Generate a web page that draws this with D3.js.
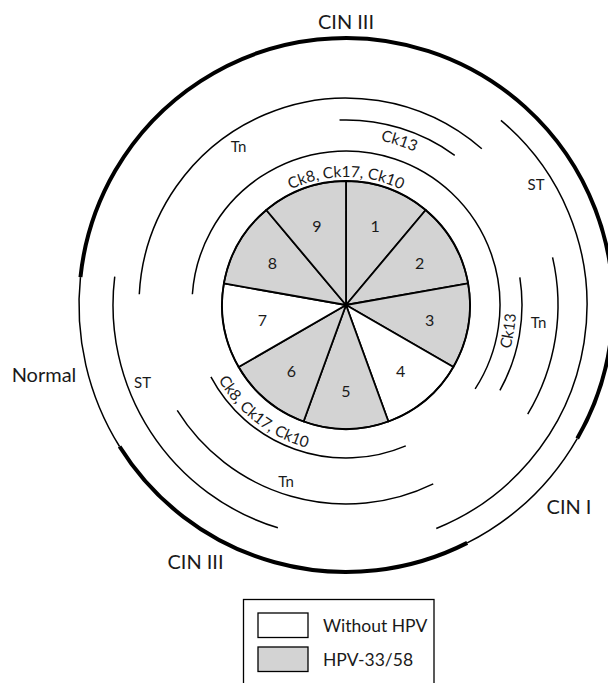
<!DOCTYPE html>
<html>
<head>
<meta charset="utf-8">
<script src="https://cdn.jsdelivr.net/npm/d3@7"></script>
<style>
  html, body { margin: 0; padding: 0; background: #fff; }
  svg { display: block; }
  text { font-family: Lato, "Noto Sans", sans-serif; fill: #1a1a1a; }
</style>
</head>
<body>
<div id="chart"></div>
<script>
// ---------------- DATA ----------------
const cases = ["1", "2", "3", "4", "5", "6", "7", "8", "9"];
const hpvStatus = ["HPV-33/58", "HPV-33/58", "HPV-33/58", "Without HPV", "HPV-33/58",
                   "HPV-33/58", "Without HPV", "HPV-33/58", "HPV-33/58"];
const legendLabels = ["Without HPV", "HPV-33/58"];

// outer ring: histological stage along the circle (degrees, clockwise from top)
const stageNames = ["CIN III", "CIN I", "CIN III", "Normal"];
const stageFrom  = [-84, 120, 153, 238];
const stageTo    = [120, 153, 238, 276];
const stageLabels = ["CIN III", "CIN I", "CIN III", "Normal"];

// marker arcs (degrees, clockwise from top)
const markerIds    = ["ck8a", "ck8b", "ck13a", "ck13b", "tna", "tnb", "tnc", "sta", "stb"];
const markerNames  = ["Ck8, Ck17, Ck10", "Ck8, Ck17, Ck10", "Ck13", "Ck13", "Tn", "Tn", "Tn", "ST", "ST"];
const markerFrom   = [-86, 157, -2, 81, -87, 77, 154, 40, 197];
const markerTo     = [123, 242, 36, 119, 41, 121, 238, 158, 277];

// ---------------- LAYOUT ----------------
const W = 608, H = 683;
const cx = 346, cy = 305;
const pieR = 124, outerR = 267;
const markerRadius = d3.scaleOrdinal().domain(markerIds)
  .range([154, 153, 185, 176, 207, 212, 199, 241, 233]);

// label placement (angle deg, radius, mode)
const markerLabelLayout = {
  ck8a:  {a: 0,    r: 128, mode: "cw"},
  ck8b:  {a: 217.5, r: 148, mode: "ccw"},
  ck13a: {a: 18,   r: 168, mode: "cw"},
  ck13b: {a: 99,   r: 170, mode: "ccw"},
  tna:   {x: 238.5, y: 146, mode: "h"},
  tnb:   {x: 538.5, y: 322, mode: "h"},
  tnc:   {x: 286,  y: 480.5, mode: "h"},
  sta:   {x: 536,  y: 184, mode: "h"},
  stb:   {x: 142.5, y: 382, mode: "h"}
};
const stageLabelPos = [[346, 21], [569, 506], [195.5, 561], [44, 374]];

const rad = d => d * Math.PI / 180;
const fill = d3.scaleOrdinal().domain(legendLabels).range(["#ffffff", "#d3d3d3"]);

const svg = d3.select("#chart").append("svg").attr("width", W).attr("height", H);
const g = svg.append("g").attr("transform", `translate(${cx},${cy})`);

function arcPath(r, a0, a1, ccw) {
  const p = d3.path();
  // convert clock angle to math angle (0 = 3 o'clock)
  const m0 = rad(a0 - 90), m1 = rad(a1 - 90);
  p.moveTo(r * Math.cos(m0), r * Math.sin(m0));
  p.arc(0, 0, r, m0, m1, ccw);
  return p.toString();
}

// ---- outer stage circle ----
stageNames.forEach((s, i) => {
  g.append("path")
    .attr("d", arcPath(outerR, stageFrom[i], stageTo[i], false))
    .attr("fill", "none")
    .attr("stroke", "#000")
    .attr("stroke-width", s === "CIN III" ? 4 : 1.5);
});

// ---- marker arcs ----
markerIds.forEach((id, i) => {
  g.append("path")
    .attr("d", arcPath(markerRadius(id), markerFrom[i], markerTo[i], false))
    .attr("fill", "none")
    .attr("stroke", "#000")
    .attr("stroke-width", 1.5);
});

// ---- marker labels ----
const defs = svg.append("defs");
markerIds.forEach((id, i) => {
  const L = markerLabelLayout[id];
  if (L.mode === "h") {
    svg.append("text")
      .attr("x", L.x).attr("y", L.y)
      .attr("text-anchor", "middle")
      .attr("dominant-baseline", "central")
      .attr("font-size", 15)
      .text(markerNames[i]);
  } else {
    const pid = "lp-" + id;
    const span = 70;
    const d = L.mode === "cw"
      ? arcPath(L.r, L.a - span, L.a + span, false)
      : arcPath(L.r, L.a + span, L.a - span, true);
    defs.append("path").attr("id", pid).attr("d", d)
      .attr("transform", `translate(${cx},${cy})`);
    svg.append("text")
      .attr("font-size", 15.5)
      .append("textPath")
      .attr("href", "#" + pid)
      .attr("startOffset", "50%")
      .attr("text-anchor", "middle")
      .text(markerNames[i]);
  }
});

// ---- pie ----
const pie = d3.pie().value(() => 1).sort(null);
const arcs = pie(cases);
const arcGen = d3.arc().innerRadius(0).outerRadius(pieR);
g.selectAll("path.slice").data(arcs).join("path")
  .attr("class", "slice")
  .attr("d", arcGen)
  .attr("fill", (d, i) => fill(hpvStatus[i]))
  .attr("stroke", "#000")
  .attr("stroke-width", 1.8)
  .attr("stroke-linejoin", "round");
g.append("circle").attr("r", pieR).attr("fill", "none")
  .attr("stroke", "#000").attr("stroke-width", 1.6);

const labelArc = d3.arc().innerRadius(85).outerRadius(85);
g.selectAll("text.num").data(arcs).join("text")
  .attr("class", "num")
  .attr("transform", d => `translate(${labelArc.centroid(d)})`)
  .attr("text-anchor", "middle")
  .attr("dominant-baseline", "central")
  .attr("font-size", 16)
  .text(d => d.data);

// ---- stage labels ----
stageLabels.forEach((s, i) => {
  svg.append("text")
    .attr("x", stageLabelPos[i][0]).attr("y", stageLabelPos[i][1])
    .attr("text-anchor", "middle")
    .attr("dominant-baseline", "central")
    .attr("font-size", 20)
    .text(s);
});

// ---- legend ----
const lg = svg.append("g");
lg.append("rect").attr("x", 243.5).attr("y", 599.5).attr("width", 190.5).attr("height", 110)
  .attr("fill", "#fff").attr("stroke", "#000").attr("stroke-width", 1.3);
legendLabels.forEach((l, i) => {
  lg.append("rect")
    .attr("x", 258).attr("y", 613 + i * 34).attr("width", 50).attr("height", 24.5)
    .attr("fill", fill(l)).attr("stroke", "#000").attr("stroke-width", 1.3);
  lg.append("text")
    .attr("x", 323).attr("y", 632 + i * 33.5)
    .attr("font-size", 17.5)
    .text(l);
});
</script>
</body>
</html>
